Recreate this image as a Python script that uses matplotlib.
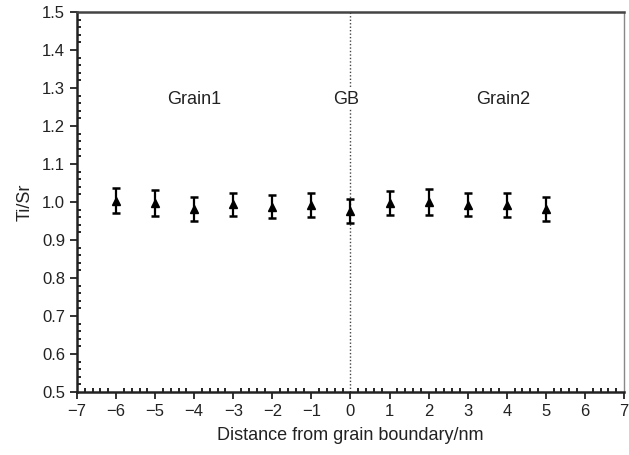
import numpy as np
import matplotlib
matplotlib.use("Agg")
import matplotlib.pyplot as plt
from matplotlib.ticker import MultipleLocator

plt.rcParams['font.family'] = ['Liberation Sans', 'DejaVu Sans']

# data
distance = [-6, -5, -4, -3, -2, -1, 0, 1, 2, 3, 4, 5]
ti_sr = [1.004, 0.997, 0.982, 0.994, 0.988, 0.992, 0.977, 0.998, 1.000, 0.993, 0.992, 0.982]
ti_sr_err = [0.033, 0.034, 0.031, 0.031, 0.031, 0.031, 0.032, 0.031, 0.033, 0.031, 0.031, 0.031]

regions = ["Grain1", "GB", "Grain2"]
region_x = [-4.0, -0.1, 3.9]
region_y = 1.27

fig = plt.figure(figsize=(6.29, 4.55), dpi=100)
ax = fig.add_axes([0.1224, 0.1385, 0.8696, 0.835])

ax.axvline(0, color='#444444', ls=(0, (1, 1.5)), lw=1.0, zorder=1)

ax.errorbar(distance, ti_sr, yerr=ti_sr_err, fmt='^', color='black',
            markersize=6, elinewidth=1.6, capsize=3, capthick=1.8, zorder=3)

for name, xx in zip(regions, region_x):
    ax.text(xx, region_y, name, fontsize=13, ha='center', va='center',
            color='#222222', zorder=2,
            bbox=dict(facecolor='white', edgecolor='none', pad=1))

ax.set_xlim(-7, 7)
ax.set_ylim(0.5, 1.5)
ax.xaxis.set_major_locator(MultipleLocator(1))
ax.xaxis.set_minor_locator(MultipleLocator(0.2))
ax.yaxis.set_major_locator(MultipleLocator(0.1))
ax.yaxis.set_minor_locator(MultipleLocator(0.02))
ax.yaxis.set_major_formatter(plt.FuncFormatter(lambda v, p: f"{v:.1f}"))

ax.tick_params(which='major', direction='out', length=5, width=1.3,
               labelsize=12, colors='#222222', top=False, right=False)
ax.tick_params(which='minor', direction='in', length=3, width=1.2,
               top=False, right=False)

for side in ['left', 'bottom']:
    ax.spines[side].set_linewidth(1.8)
    ax.spines[side].set_color('#222222')
ax.spines['top'].set_linewidth(1.8)
ax.spines['top'].set_color('#444444')
ax.spines['right'].set_linewidth(1.0)
ax.spines['right'].set_color('#888888')

ax.set_xlabel("Distance from grain boundary/nm", fontsize=13, color='#222222', labelpad=6)
ax.set_ylabel("Ti/Sr", fontsize=13, color='#222222', labelpad=6)

fig.savefig("out.png", dpi=100)
